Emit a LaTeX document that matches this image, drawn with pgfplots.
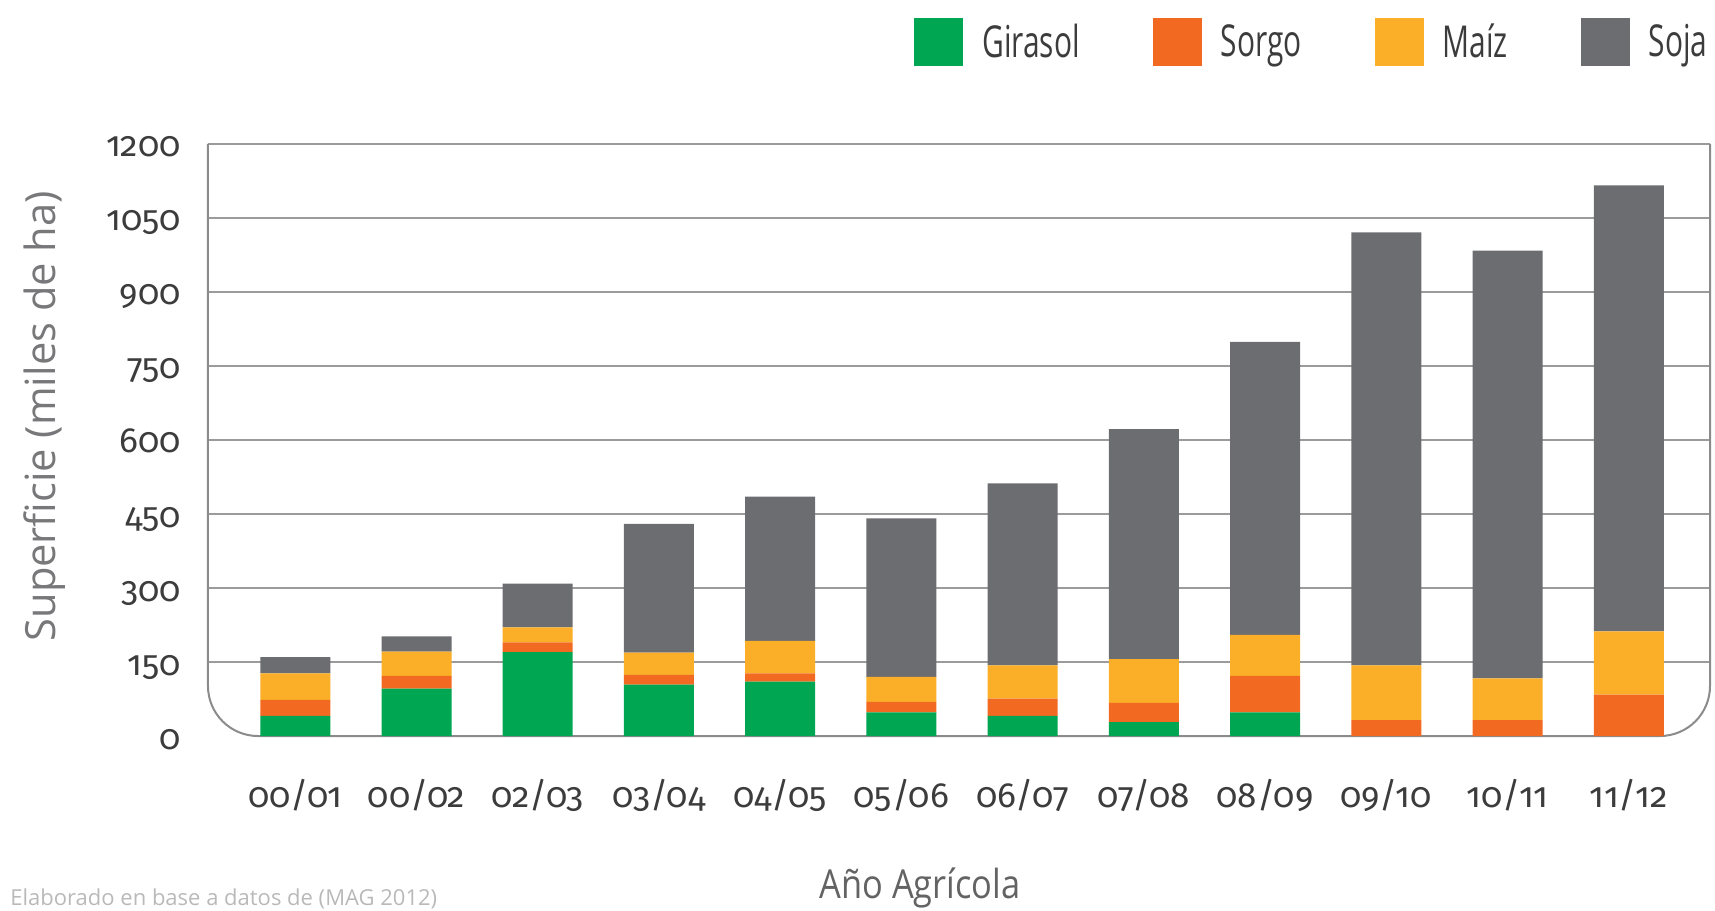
\documentclass[border=0pt]{standalone}
\usepackage{fontspec}
\setmainfont{Fira Sans}[Numbers=OldStyle]
\newfontfamily\labfont{Open Sans}
\newfontfamily\legfont{Open Sans}[FakeStretch=0.68]
\newfontfamily\xlabfont{Open Sans}[FakeStretch=0.86]
\usepackage{pgfplots}
\usepackage{pgfplotstable}
\pgfplotsset{compat=1.18}
\definecolor{girasol}{RGB}{0,166,81}
\definecolor{sorgo}{RGB}{242,106,34}
\definecolor{maiz}{RGB}{251,174,40}
\definecolor{soja}{RGB}{108,109,112}
\definecolor{gridc}{RGB}{155,155,155}
\definecolor{tickc}{RGB}{60,60,60}
\definecolor{labc}{RGB}{120,120,122}

\pgfplotstableread{
x G S M Soja
0 41 32 54 33
1 96 26 49 31
2 170 20 30 89
3 104 20 45 261
4 110 17 66 292
5 48 21 51 321
6 41 35 67 369
7 28 39 89 466
8 48 74 83 594
9 0 32 111 878
10 0 32 85 867
11 0 84 128 904
}\datatable

\begin{document}
\begin{tikzpicture}
\path[use as bounding box] (-104bp,-87.5bp) rectangle (753.5bp,368bp);
\begin{axis}[
  at={(0,0)}, anchor=south west,
  width=751bp, height=296bp, scale only axis,
  xmin=-0.72, xmax=11.67, ymin=0, ymax=1200,
  clip=false,
  ybar stacked, bar width=35bp,
  xtick={0,...,11},
  xticklabels={00/01,00/02,02/03,03/04,04/05,05/06,06/07,07/08,08/09,09/10,10/11,11/12},
  ytick={150,300,...,1200},
  extra y ticks={0}, extra y tick style={grid=none},
  ymajorgrids, grid style={gridc, line width=1.3bp},
  major tick length=0pt,
  axis line style={draw=none},
  /pgf/number format/assume math mode=true,
  /pgf/number format/1000 sep={},
  tick label style={font=\fontsize{17.5bp}{21bp}\selectfont, color=tickc},
  yticklabel style={anchor=base east, inner sep=0pt, xshift=-13.5bp, yshift=-6.5bp},
  xticklabel style={anchor=base, inner sep=0pt, yshift=-35.5bp},
  ylabel={Superficie (miles de ha)},
  ylabel style={at={(axis description cs:-0.109,0.54)}, anchor=center, font=\labfont\fontsize{20.8bp}{24bp}\selectfont, color=labc},
  xlabel={Año Agrícola},
  xlabel style={at={(axis description cs:0.474,-0.257)}, anchor=center, font=\xlabfont\fontsize{20bp}{24bp}\selectfont, color=tickc!80},
  legend columns=4,
  legend style={at={(1,1)}, anchor=east, xshift=-1bp, yshift=51bp, draw=none, fill=none, inner sep=0pt,
    font=\legfont\fontsize{22bp}{24bp}\selectfont, text=tickc, cells={anchor=west}, nodes={inner sep=0pt},
    /tikz/every odd column/.append style={column sep=9.5bp},
    /tikz/every even column/.append style={column sep=36.5bp}},
  legend image code/.code={\fill[#1] (0bp,-12bp) rectangle (24.5bp,12bp);},
]
\addplot[fill=girasol, draw=none] table[x=x, y=G] {\datatable};
\addplot[fill=sorgo, draw=none] table[x=x, y=S] {\datatable};
\addplot[fill=maiz, draw=none] table[x=x, y=M] {\datatable};
\addplot[fill=soja, draw=none] table[x=x, y=Soja] {\datatable};
\legend{Girasol, Sorgo, Maíz, Soja}
\draw[gridc!90!black, line width=1bp, rounded corners=25bp] (rel axis cs:0,1) -- (rel axis cs:0,0) -- (rel axis cs:1,0) -- (rel axis cs:1,1);
\end{axis}
\node[anchor=base west, inner sep=0pt, font=\labfont\fontsize{11bp}{13bp}\selectfont, text=gray!55] at (-99bp,-84.5bp) {Elaborado en base a datos de (MAG 2012)};
\end{tikzpicture}
\end{document}
